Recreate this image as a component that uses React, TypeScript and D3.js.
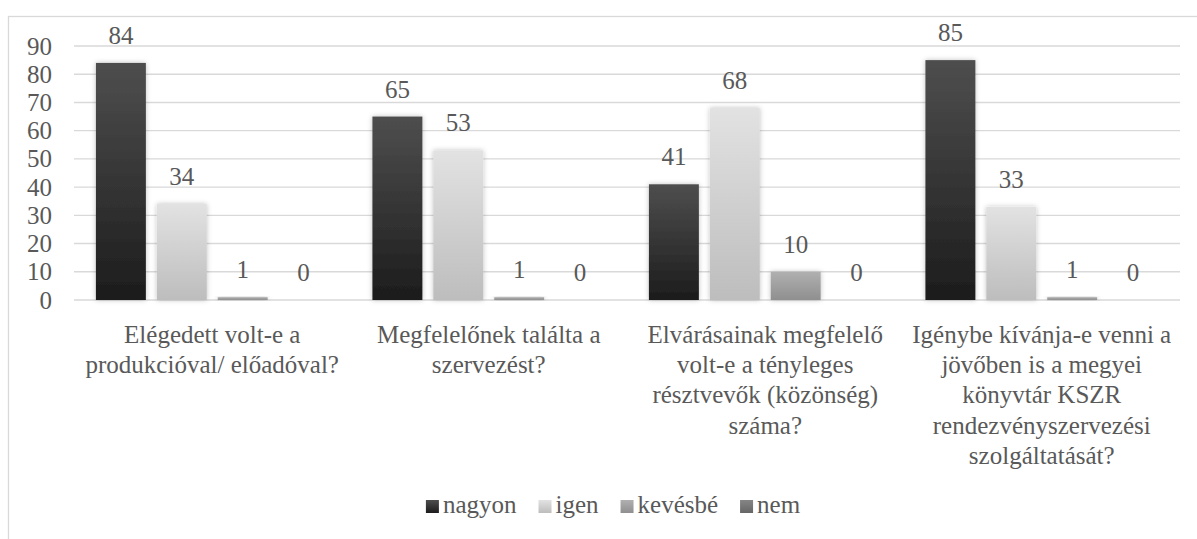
import React from "react";
import * as d3 from "d3";

const categories: string[][] = [
    ["Elégedett volt-e a", "produkcióval/ előadóval?"],
    ["Megfelelőnek találta a", "szervezést?"],
    ["Elvárásainak megfelelő", "volt-e a tényleges", "résztvevők (közönség)", "száma?"],
    ["Igénybe kívánja-e venni a", "jövőben is a megyei", "könyvtár KSZR", "rendezvényszervezési", "szolgáltatását?"]
];

const seriesNames = ["nagyon", "igen", "kevésbé", "nem"];

const nagyon = [84, 65, 41, 85];
const igen = [34, 53, 68, 33];
const kevesbe = [1, 1, 10, 1];
const nem = [0, 0, 0, 0];

const yTicks = [0, 10, 20, 30, 40, 50, 60, 70, 80, 90];

// top / bottom gradient colours per series
const colors: [string, string][] = [
    ["#4e4e4e", "#1c1c1c"],
    ["#e2e2e2", "#bdbdbd"],
    ["#b0b0b0", "#8f8f8f"],
    ["#858585", "#666666"]
];

const width = 1197;
const height = 539;
const margin = {left: 74, right: 17, top: 46, bottom: 239};
const textColor = "#595959";
const fontSize = 25;
const textStyle = {fontFamily: "\"Liberation Serif\"", fontSize: fontSize};

function measure(s: string): number {
    const c = document.createElement("canvas").getContext("2d");
    if (!c) return s.length * fontSize * 0.45;
    c.font = `${fontSize}px "Liberation Serif"`;
    return c.measureText(s).width;
}

export default function App() {
    const values = [nagyon, igen, kevesbe, nem];
    const groupIdx = categories.map((_, i) => i);

    const x0 = d3.scaleBand<number>()
        .domain(groupIdx)
        .range([margin.left, width - margin.right])
        .padding(0);

    const x1 = d3.scaleBand<number>()
        .domain(seriesNames.map((_, i) => i))
        .range([0, x0.bandwidth()])
        .paddingInner(0.18)
        .paddingOuter(0.36);

    const y = d3.scaleLinear()
        .domain([0, 90])
        .range([height - margin.bottom, margin.top]);

    // legend layout
    const swatch = 13, gapText = 4, gapItem = 22;
    const itemWidths = seriesNames.map(s => swatch + gapText + measure(s));
    const total = d3.sum(itemWidths) + gapItem * (itemWidths.length - 1);
    const legendStart = 613 - total / 2;
    const itemX = itemWidths.map((_, i) => legendStart + d3.sum(itemWidths.slice(0, i)) + gapItem * i);

    return (
        <svg
            width={width}
            height={height}
            style={{position: "absolute", left: 0, top: 0, backgroundColor: "white"}}
        >
            <defs>
                {colors.map((c, i) => (
                    <linearGradient key={i} id={`grad${i}`} x1={0} y1={0} x2={0} y2={1}>
                        <stop offset="0%" stopColor={c[0]}/>
                        <stop offset="100%" stopColor={c[1]}/>
                    </linearGradient>
                ))}
                <filter id="shadow" x="-30%" y="-30%" width="160%" height="160%">
                    <feDropShadow dx={0} dy={0} stdDeviation={2.5} floodColor="#000" floodOpacity={0.25}/>
                </filter>
            </defs>

            {/* outer chart border, continues past the picture */}
            <rect x={8.5} y={16.5} width={width + 20} height={height + 20}
                  fill="white" stroke="#d9d9d9" strokeWidth={1.3}/>

            {yTicks.map(t => (
                <line key={t} x1={margin.left} x2={width - margin.right} y1={y(t)} y2={y(t)}
                      stroke="#d9d9d9" strokeWidth={1.4}/>
            ))}

            {yTicks.map(t => (
                <text key={t} x={52} y={y(t)} dy="0.34em" textAnchor="end" fill={textColor} style={textStyle}>
                    {t}
                </text>
            ))}

            {groupIdx.map(gi => (
                <g key={gi} transform={`translate(${x0(gi)},0)`}>
                    {values.map((s, si) => s[gi] > 0 ? (
                        <rect key={si} x={x1(si)} width={x1.bandwidth()} y={y(s[gi])}
                              height={y(0) - y(s[gi])} fill={`url(#grad${si})`} filter="url(#shadow)"/>
                    ) : null)}
                    {values.map((s, si) => (
                        <text key={`v${si}`} x={x1(si)! + x1.bandwidth() / 2} y={y(s[gi]) - 19}
                              textAnchor="middle" fill={textColor} style={textStyle}>
                            {s[gi]}
                        </text>
                    ))}
                    <text x={x0.bandwidth() / 2} y={y(0) + 43} textAnchor="middle" fill={textColor} style={textStyle}>
                        {categories[gi].map((line, li) => (
                            <tspan key={li} x={x0.bandwidth() / 2} dy={li === 0 ? 0 : 30.2}>{line}</tspan>
                        ))}
                    </text>
                </g>
            ))}

            <g transform="translate(0,513)">
                {seriesNames.map((s, i) => (
                    <g key={s} transform={`translate(${itemX[i]},0)`}>
                        <rect width={swatch} height={swatch} y={-swatch} fill={`url(#grad${i})`}/>
                        <text x={swatch + gapText} fill={textColor} style={textStyle}>{s}</text>
                    </g>
                ))}
            </g>
        </svg>
    );
}
